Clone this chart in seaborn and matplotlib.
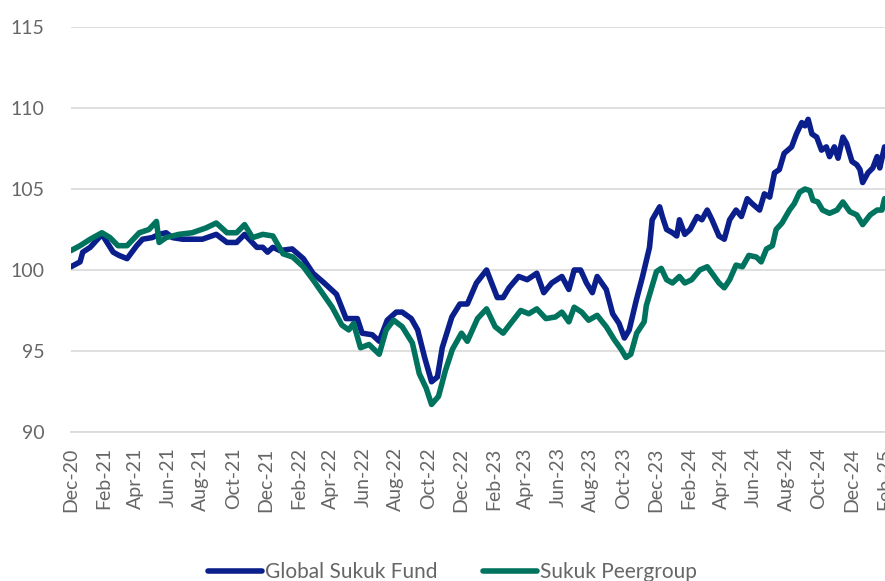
import seaborn as sns
import pandas as pd
import matplotlib.pyplot as plt
import matplotlib.dates as mdates

# Global Sukuk Fund (indexed to 100)
fund_dates = [
    '2020-12-01', '2020-12-18', '2020-12-23', '2021-01-06', '2021-01-28', '2021-02-18',
    '2021-03-01', '2021-03-16', '2021-04-03', '2021-04-14', '2021-05-02', '2021-05-15',
    '2021-05-28', '2021-06-09', '2021-06-28', '2021-07-16', '2021-08-04', '2021-08-30',
    '2021-09-19', '2021-10-07', '2021-10-22', '2021-11-14', '2021-11-25', '2021-12-04',
    '2021-12-14', '2021-12-27', '2022-01-19', '2022-02-09', '2022-02-27', '2022-03-20',
    '2022-04-12', '2022-04-30', '2022-05-21', '2022-05-30', '2022-06-18', '2022-07-01',
    '2022-07-16', '2022-08-02', '2022-08-13', '2022-08-30', '2022-09-11', '2022-09-24',
    '2022-10-07', '2022-10-18', '2022-10-27', '2022-11-14', '2022-11-29', '2022-12-13',
    '2022-12-30', '2023-01-18', '2023-02-07', '2023-02-18', '2023-03-01', '2023-03-19',
    '2023-04-04', '2023-04-22', '2023-05-05', '2023-05-20', '2023-06-08', '2023-06-21',
    '2023-07-01', '2023-07-13', '2023-07-24', '2023-08-04', '2023-08-13', '2023-08-30',
    '2023-09-11', '2023-09-23', '2023-10-03', '2023-10-12', '2023-10-25', '2023-11-06',
    '2023-11-19', '2023-11-24', '2023-12-08', '2023-12-13', '2023-12-21', '2024-01-01',
    '2024-01-09', '2024-01-14', '2024-01-24', '2024-02-03', '2024-02-16', '2024-02-25',
    '2024-03-06', '2024-03-15', '2024-03-28', '2024-04-07', '2024-04-17', '2024-04-29',
    '2024-05-09', '2024-05-20', '2024-05-29', '2024-06-12', '2024-06-21', '2024-07-01',
    '2024-07-10', '2024-07-19', '2024-07-28', '2024-08-11', '2024-08-20', '2024-08-30',
    '2024-09-05', '2024-09-11', '2024-09-18', '2024-09-27', '2024-10-06', '2024-10-15',
    '2024-10-21', '2024-10-30', '2024-11-06', '2024-11-15', '2024-11-22', '2024-12-02',
    '2024-12-11', '2024-12-17', '2024-12-22', '2025-01-01', '2025-01-10', '2025-01-18',
    '2025-01-23', '2025-02-01',
]
fund_values = [
    100.2, 100.5, 101.1, 101.4, 102.2, 101.1,
    100.9, 100.7, 101.5, 101.9, 102.0, 102.2,
    102.3, 102.0, 101.9, 101.9, 101.9, 102.2,
    101.7, 101.7, 102.2, 101.4, 101.4, 101.1,
    101.4, 101.2, 101.3, 100.7, 99.8, 99.2,
    98.5, 97.0, 97.0, 96.1, 96.0, 95.6,
    96.9, 97.4, 97.4, 97.0, 96.3, 94.6,
    93.1, 93.4, 95.2, 97.1, 97.9, 97.9,
    99.2, 100.0, 98.3, 98.3, 98.9, 99.6,
    99.4, 99.8, 98.6, 99.2, 99.6, 98.8,
    100.0, 100.0, 99.2, 98.6, 99.6, 98.8,
    97.3, 96.7, 95.8, 96.3, 98.1, 99.6,
    101.4, 103.1, 103.9, 103.3, 102.5, 102.3,
    102.1, 103.1, 102.2, 102.5, 103.3, 103.1,
    103.7, 103.1, 102.1, 101.9, 103.1, 103.7,
    103.3, 104.4, 104.1, 103.7, 104.7, 104.5,
    106.0, 106.2, 107.2, 107.6, 108.4, 109.1,
    108.9, 109.3, 108.4, 108.2, 107.4, 107.6,
    107.0, 107.6, 106.9, 108.2, 107.8, 106.7,
    106.5, 106.2, 105.4, 106.0, 106.3, 107.0,
    106.3, 107.6,
]

# Sukuk Peergroup (indexed to 100)
peer_dates = [
    '2020-12-01', '2020-12-18', '2021-01-06', '2021-01-28', '2021-02-12', '2021-02-27',
    '2021-03-16', '2021-04-08', '2021-04-26', '2021-05-10', '2021-05-15', '2021-05-28',
    '2021-06-21', '2021-07-16', '2021-08-11', '2021-08-30', '2021-09-19', '2021-10-07',
    '2021-10-22', '2021-11-06', '2021-11-25', '2021-12-14', '2022-01-02', '2022-01-20',
    '2022-02-09', '2022-02-27', '2022-03-16', '2022-04-04', '2022-04-22', '2022-05-05',
    '2022-05-14', '2022-05-27', '2022-06-12', '2022-07-01', '2022-07-14', '2022-07-28',
    '2022-08-13', '2022-09-01', '2022-09-14', '2022-09-27', '2022-10-07', '2022-10-20',
    '2022-11-02', '2022-11-15', '2022-12-02', '2022-12-13', '2023-01-01', '2023-01-18',
    '2023-02-03', '2023-02-18', '2023-03-04', '2023-03-23', '2023-04-07', '2023-04-22',
    '2023-05-09', '2023-05-27', '2023-06-08', '2023-06-21', '2023-07-01', '2023-07-15',
    '2023-07-28', '2023-08-13', '2023-08-30', '2023-09-14', '2023-09-27', '2023-10-06',
    '2023-10-15', '2023-10-26', '2023-11-09', '2023-11-13', '2023-11-22', '2023-12-02',
    '2023-12-11', '2023-12-21', '2024-01-01', '2024-01-14', '2024-01-24', '2024-02-06',
    '2024-02-21', '2024-03-06', '2024-03-15', '2024-03-28', '2024-04-07', '2024-04-17',
    '2024-04-29', '2024-05-11', '2024-05-23', '2024-06-06', '2024-06-15', '2024-06-25',
    '2024-07-06', '2024-07-13', '2024-07-24', '2024-08-07', '2024-08-16', '2024-08-26',
    '2024-09-05', '2024-09-14', '2024-09-20', '2024-09-29', '2024-10-08', '2024-10-21',
    '2024-11-04', '2024-11-15', '2024-11-28', '2024-12-11', '2024-12-22', '2025-01-05',
    '2025-01-18', '2025-01-27', '2025-02-01',
]
peer_values = [
    101.2, 101.5, 101.9, 102.3, 102.0, 101.5,
    101.5, 102.3, 102.5, 103.0, 101.7, 102.0,
    102.2, 102.3, 102.6, 102.9, 102.3, 102.3,
    102.8, 102.0, 102.2, 102.1, 101.0, 100.8,
    100.2, 99.4, 98.6, 97.7, 96.6, 96.3,
    96.7, 95.2, 95.4, 94.8, 96.3, 96.9,
    96.5, 95.5, 93.6, 92.7, 91.7, 92.2,
    93.8, 95.1, 96.1, 95.6, 97.0, 97.6,
    96.5, 96.1, 96.7, 97.5, 97.3, 97.6,
    97.0, 97.1, 97.4, 96.8, 97.7, 97.4,
    96.9, 97.2, 96.5, 95.7, 95.1, 94.6,
    94.8, 96.1, 96.8, 97.8, 98.8, 99.9,
    100.1, 99.4, 99.2, 99.6, 99.2, 99.4,
    100.0, 100.2, 99.8, 99.2, 98.9, 99.4,
    100.3, 100.2, 100.9, 100.8, 100.5, 101.3,
    101.5, 102.5, 102.9, 103.7, 104.1, 104.8,
    105.0, 104.9, 104.3, 104.2, 103.7, 103.5,
    103.7, 104.2, 103.6, 103.4, 102.8, 103.4,
    103.7, 103.7, 104.4,
]

series_names = ['Global Sukuk Fund', 'Sukuk Peergroup']
series_colors = ['#0b1f8c', '#00735e']
y_ticks = [90, 95, 100, 105, 110, 115]

fund = pd.DataFrame({'Date': pd.to_datetime(fund_dates), 'Value': fund_values, 'Series': series_names[0]})
peer = pd.DataFrame({'Date': pd.to_datetime(peer_dates), 'Value': peer_values, 'Series': series_names[1]})
data = pd.concat([fund, peer], ignore_index=True)

sns.set_style('white')
plt.rcParams['font.family'] = ['Lato', 'DejaVu Sans']

grey = '#666666'
grid = '#d9d9d9'

fig = plt.figure(figsize=(8.85, 5.81), dpi=100)
ax = fig.add_axes([0.0802, 0.2565, 0.9193, 0.697])

sns.lineplot(data=data, x='Date', y='Value', hue='Series', palette=series_colors,
             hue_order=series_names, estimator=None, linewidth=4, ax=ax, legend=False)

ax.set_xlim(pd.Timestamp('2020-12-01'), pd.Timestamp('2025-02-01'))
ax.set_ylim(90, 115)
ax.set_yticks(y_ticks)
ax.yaxis.grid(True, color=grid, linewidth=1.2)
ax.set_axisbelow(True)

ax.xaxis.set_major_locator(mdates.MonthLocator(bymonth=[2, 4, 6, 8, 10, 12]))
ax.xaxis.set_major_formatter(mdates.DateFormatter('%b-%y'))
ax.tick_params(axis='x', rotation=90, length=6, width=1.2, color=grid,
               labelcolor=grey, labelsize=14, pad=5)
ax.tick_params(axis='y', length=0, labelcolor=grey, labelsize=14, pad=19)

for side in ['top', 'right', 'left']:
    ax.spines[side].set_visible(False)
ax.spines['bottom'].set_color(grid)
ax.spines['bottom'].set_linewidth(1.2)

ax.set_xlabel('')
ax.set_ylabel('')

handles = [plt.Line2D([], [], color=c, linewidth=4, solid_capstyle='round') for c in series_colors]
fig.legend(handles, series_names, loc='lower center', bbox_to_anchor=(0.511, -0.034), ncol=2,
           frameon=False, fontsize=15, labelcolor=grey, handlelength=2.6,
           handletextpad=0.12, columnspacing=2.2)

fig.savefig('out.png', dpi=100)
